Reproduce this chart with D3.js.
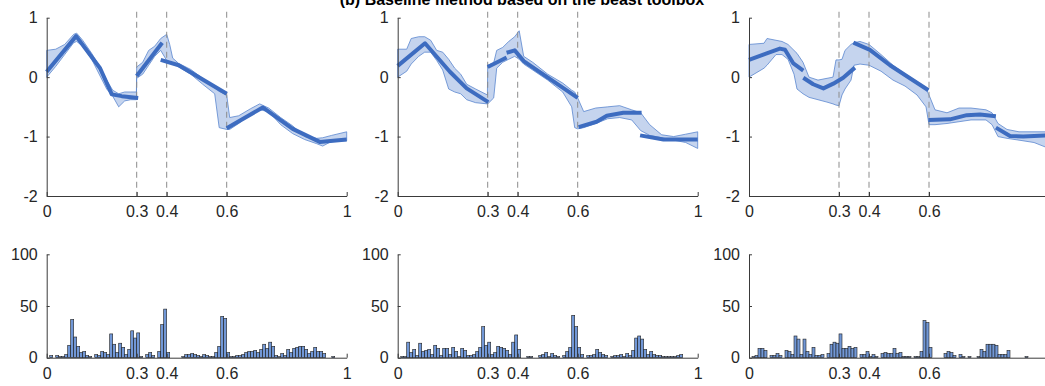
<!DOCTYPE html>
<html>
<head>
<meta charset="utf-8">
<script src="https://cdn.jsdelivr.net/npm/d3@7"></script>
<style>
  body { margin: 0; background: #fff; }
  svg { display: block; font-family: "Liberation Sans", Arial, sans-serif; }
  .axis text { font-size: 16px; fill: #262626; }
  .axis path, .axis line { stroke: #3a3a3a; }
</style>
</head>
<body>
<div id="chart"></div>
<script>
// ticks and changepoints
const xTicks = [0, 0.3, 0.4, 0.6, 1];
const yTicksTop = [-2, -1, 0, 1];
const yTicksBottom = [0, 50, 100];
const changePoints = [0.3, 0.4, 0.6];
const title = '(b) Baseline method based on the beast toolbox';

// panel 1 : credible band and fitted trend segments
const p1BandT  = [0, 0.03, 0.06, 0.09, 0.1, 0.12, 0.15, 0.18, 0.2, 0.22, 0.24, 0.26, 0.28, 0.299, 0.3, 0.32, 0.34, 0.36, 0.38, 0.4, 0.41, 0.42, 0.44, 0.48, 0.52, 0.56, 0.575, 0.6, 0.61, 0.64, 0.68, 0.71, 0.74, 0.78, 0.82, 0.86, 0.9, 0.92, 0.95, 1];
const p1BandHi = [0.45, 0.47, 0.55, 0.72, 0.74, 0.62, 0.40, 0.15, -0.05, -0.22, -0.28, -0.25, -0.25, -0.25, 0.17, 0.25, 0.45, 0.52, 0.65, 0.72, 0.55, 0.32, 0.23, 0.13, -0.02, -0.18, -0.24, -0.30, -0.68, -0.65, -0.53, -0.45, -0.52, -0.68, -0.82, -1.0, -1.03, -1.02, -0.98, -0.92];
const p1BandLo = [0.0, 0.18, 0.38, 0.58, 0.60, 0.52, 0.30, 0.0, -0.2, -0.32, -0.50, -0.40, -0.38, -0.38, -0.02, 0.05, 0.2, 0.35, 0.45, 0.28, 0.26, 0.24, 0.17, 0.05, -0.12, -0.28, -0.85, -0.88, -0.88, -0.78, -0.62, -0.55, -0.58, -0.80, -0.95, -1.05, -1.12, -1.16, -1.08, -1.07];
const p1Segments = [
  [[0, 0.09], [0.098, 0.69], [0.178, 0.15], [0.217, -0.29], [0.25, -0.32], [0.305, -0.35]],
  [[0.30, 0.02], [0.385, 0.58]],
  [[0.38, 0.29], [0.44, 0.20], [0.6, -0.28]],
  [[0.6, -0.86], [0.72, -0.51], [0.82, -0.87], [0.91, -1.09], [1.0, -1.05]]
];

// panel 2
const p2BandT  = [0, 0.03, 0.045, 0.07, 0.09, 0.11, 0.13, 0.15, 0.17, 0.19, 0.21, 0.23, 0.26, 0.299, 0.3, 0.32, 0.33, 0.35, 0.37, 0.39, 0.405, 0.42, 0.45, 0.5, 0.55, 0.58, 0.59, 0.6, 0.62, 0.66, 0.7, 0.74, 0.78, 0.81, 0.84, 0.88, 0.92, 0.96, 1];
const p2BandHi = [0.47, 0.47, 0.65, 0.68, 0.68, 0.62, 0.45, 0.42, 0.30, 0.15, 0.05, -0.12, -0.2, -0.3, 0.2, 0.24, 0.45, 0.5, 0.6, 0.68, 0.78, 0.35, 0.25, 0.05, -0.1, -0.22, -0.25, -0.35, -0.58, -0.52, -0.50, -0.48, -0.55, -0.6, -0.8, -0.97, -1.0, -0.96, -0.92];
const p2BandLo = [0.0, 0.1, 0.22, 0.35, 0.42, 0.42, 0.28, 0.12, -0.2, -0.25, -0.28, -0.38, -0.43, -0.45, -0.45, -0.35, 0.15, 0.25, 0.3, 0.35, 0.3, 0.22, 0.12, -0.05, -0.25, -0.5, -0.85, -0.87, -0.85, -0.78, -0.70, -0.68, -0.72, -0.9, -0.98, -1.02, -1.06, -1.1, -1.2];
const p2Segments = [
  [[0, 0.19], [0.091, 0.57], [0.174, 0.09], [0.208, -0.08], [0.23, -0.19], [0.302, -0.42]],
  [[0.30, 0.17], [0.363, 0.33]],
  [[0.363, 0.41], [0.39, 0.45], [0.42, 0.27], [0.6, -0.35]],
  [[0.603, -0.84], [0.663, -0.75], [0.697, -0.65], [0.752, -0.6], [0.813, -0.6]],
  [[0.808, -0.98], [0.886, -1.05], [1.0, -1.05]]
];

// panel 3
const p3BandT  = [0, 0.05, 0.06, 0.09, 0.11, 0.13, 0.15, 0.16, 0.18, 0.2, 0.23, 0.26, 0.28, 0.29, 0.3, 0.31, 0.32, 0.34, 0.35, 0.37, 0.4, 0.44, 0.48, 0.52, 0.56, 0.59, 0.6, 0.62, 0.66, 0.7, 0.74, 0.79, 0.81, 0.83, 0.86, 0.9, 0.95, 1];
const p3BandHi = [0.55, 0.57, 0.65, 0.62, 0.6, 0.55, 0.45, 0.4, 0.25, 0.0, -0.05, -0.02, 0.0, 0.29, 0.29, 0.3, 0.45, 0.55, 0.58, 0.6, 0.55, 0.38, 0.2, 0.05, -0.08, -0.2, -0.3, -0.55, -0.6, -0.52, -0.52, -0.55, -0.6, -0.78, -0.88, -0.92, -0.92, -0.92];
const p3BandLo = [0.0, 0.15, 0.2, 0.38, 0.38, 0.3, 0.05, -0.2, -0.28, -0.34, -0.38, -0.42, -0.45, -0.47, -0.48, -0.3, -0.2, -0.05, 0.2, 0.22, 0.2, 0.1, -0.05, -0.15, -0.3, -0.5, -0.8, -0.8, -0.78, -0.75, -0.72, -0.72, -0.8, -1.0, -1.03, -1.06, -1.1, -1.2];
const p3Segments = [
  [[0, 0.29], [0.059, 0.40], [0.103, 0.48], [0.12, 0.46], [0.148, 0.23], [0.181, 0.11]],
  [[0.181, -0.01], [0.214, -0.12], [0.248, -0.19], [0.281, -0.11], [0.314, -0.01], [0.353, 0.16]],
  [[0.348, 0.58], [0.403, 0.46], [0.47, 0.2], [0.598, -0.22]],
  [[0.598, -0.72], [0.67, -0.71], [0.726, -0.64], [0.77, -0.63], [0.823, -0.66]],
  [[0.823, -0.85], [0.87, -0.99], [0.914, -1.0], [1.0, -0.98]]
];

// changepoint histograms, 100 bins of width 0.01
const p1Counts = [0, 2, 0, 2, 1, 1, 3, 12, 37, 20, 11, 5, 6, 2, 1, 0, 3, 2, 6, 5, 3, 23, 13, 5, 14, 10, 3, 8, 26, 19, 24, 1, 0, 3, 5, 2, 0, 6, 32, 47, 5, 0, 0, 0, 0, 1, 3, 3, 4, 3, 2, 1, 3, 2, 1, 1, 5, 11, 40, 38, 5, 1, 1, 2, 2, 3, 5, 6, 6, 7, 5, 8, 13, 9, 15, 11, 2, 1, 4, 2, 8, 5, 9, 10, 11, 11, 8, 4, 6, 10, 6, 6, 4, 0, 0, 1, 0, 0, 0, 0];
const p2Counts = [0, 1, 1, 15, 5, 8, 2, 14, 6, 7, 8, 3, 12, 9, 2, 9, 9, 3, 10, 6, 1, 9, 7, 2, 2, 3, 6, 10, 30, 12, 15, 3, 5, 11, 10, 9, 7, 3, 15, 22, 8, 0, 0, 1, 1, 0, 0, 2, 3, 5, 1, 4, 2, 1, 0, 2, 6, 10, 41, 30, 10, 3, 0, 2, 2, 3, 8, 5, 3, 2, 0, 1, 2, 2, 3, 1, 4, 2, 7, 19, 21, 18, 8, 3, 6, 3, 2, 2, 1, 1, 1, 1, 1, 2, 3, 0, 0, 0, 0, 0];
const p3Counts = [0, 1, 2, 9, 9, 7, 0, 2, 2, 4, 2, 0, 7, 6, 3, 21, 18, 3, 18, 6, 3, 10, 2, 2, 3, 0, 4, 13, 15, 14, 23, 9, 9, 11, 9, 10, 0, 3, 3, 6, 1, 3, 1, 0, 4, 5, 4, 4, 9, 4, 5, 1, 1, 1, 0, 1, 1, 6, 36, 34, 10, 0, 0, 0, 0, 4, 6, 5, 2, 0, 3, 1, 0, 1, 0, 0, 1, 8, 6, 13, 13, 13, 12, 3, 3, 3, 7, 0, 0, 0, 0, 0, 1, 0, 0, 0, 0, 0, 0, 0];

const panels = [
  { left: 46.7, bandT: p1BandT, bandHi: p1BandHi, bandLo: p1BandLo, segments: p1Segments, counts: p1Counts },
  { left: 397.7, bandT: p2BandT, bandHi: p2BandHi, bandLo: p2BandLo, segments: p2Segments, counts: p2Counts },
  { left: 749, bandT: p3BandT, bandHi: p3BandHi, bandLo: p3BandLo, segments: p3Segments, counts: p3Counts }
];

const W = 1045, H = 386;
const plotW = 300;
const topY = [196, 17.7];
const botY = [357.7, 254.3];

const lineColor = '#3d6cc0';
const bandFill = '#c5d4ee';
const barFill = '#7197d6';

// plain labels, hyphen minus like the original
const fmt = d => String(d);

const svg = d3.select('#chart').append('svg')
  .attr('width', W)
  .attr('height', H);

// title (partly cut off at the top, as in the original figure)
svg.append('text')
  .attr('x', 522)
  .attr('y', 5)
  .attr('text-anchor', 'middle')
  .style('font-size', '16px')
  .style('font-weight', 'bold')
  .style('fill', '#000')
  .text(title);

panels.forEach(p => {
  const x = d3.scaleLinear().domain([0, 1]).range([p.left, p.left + plotW]);
  const y = d3.scaleLinear().domain([-2, 1]).range(topY);
  const yh = d3.scaleLinear().domain([0, 100]).range(botY);

  // --- top: trend with credible band ---
  const top = svg.append('g');

  const bandData = p.bandT.map((t, i) => ({ t: t, lo: p.bandLo[i], hi: p.bandHi[i] }));
  const area = d3.area()
    .x(d => x(d.t))
    .y0(d => y(d.lo))
    .y1(d => y(d.hi));

  top.append('path')
    .datum(bandData)
    .attr('d', area)
    .attr('fill', bandFill)
    .attr('stroke', '#5a86cf')
    .attr('stroke-width', 0.8);

  // changepoint markers
  top.selectAll('.cp')
    .data(changePoints)
    .enter().append('line')
    .attr('x1', d => x(d)).attr('x2', d => x(d))
    .attr('y1', y(1.1)).attr('y2', y(-2))
    .attr('stroke', '#8c8c8c')
    .attr('stroke-width', 1)
    .attr('stroke-dasharray', '6,4');

  const line = d3.line().x(d => x(d[0])).y(d => y(d[1]));
  top.selectAll('.seg')
    .data(p.segments)
    .enter().append('path')
    .attr('d', line)
    .attr('fill', 'none')
    .attr('stroke', lineColor)
    .attr('stroke-width', 4)
    .attr('stroke-linejoin', 'round');

  top.append('g')
    .attr('class', 'axis')
    .attr('transform', `translate(0, ${topY[0]})`)
    .call(d3.axisBottom(x).tickValues(xTicks).tickFormat(fmt).tickSizeInner(-4).tickSizeOuter(0).tickPadding(10));

  top.append('g')
    .attr('class', 'axis')
    .attr('transform', `translate(${p.left}, 0)`)
    .call(d3.axisLeft(y).tickValues(yTicksTop).tickFormat(fmt).tickSizeInner(-3).tickSizeOuter(0).tickPadding(9));

  // --- bottom: changepoint histogram ---
  const bot = svg.append('g');
  bot.selectAll('rect')
    .data(p.counts.map((c, i) => ({ i: i, c: c })).filter(d => d.c > 0))
    .enter().append('rect')
    .attr('x', d => x(d.i * 0.01))
    .attr('width', d => x((d.i + 1) * 0.01) - x(d.i * 0.01))
    .attr('y', d => yh(d.c))
    .attr('height', d => yh(0) - yh(d.c))
    .attr('fill', barFill)
    .attr('stroke', '#1f1f1f')
    .attr('stroke-width', 0.6);

  bot.append('g')
    .attr('class', 'axis')
    .attr('transform', `translate(0, ${botY[0]})`)
    .call(d3.axisBottom(x).tickValues(xTicks).tickFormat(fmt).tickSizeInner(-4).tickSizeOuter(0).tickPadding(10));

  bot.append('g')
    .attr('class', 'axis')
    .attr('transform', `translate(${p.left}, 0)`)
    .call(d3.axisLeft(yh).tickValues(yTicksBottom).tickFormat(fmt).tickSizeInner(-3).tickSizeOuter(0).tickPadding(9));
});
</script>
</body>
</html>
